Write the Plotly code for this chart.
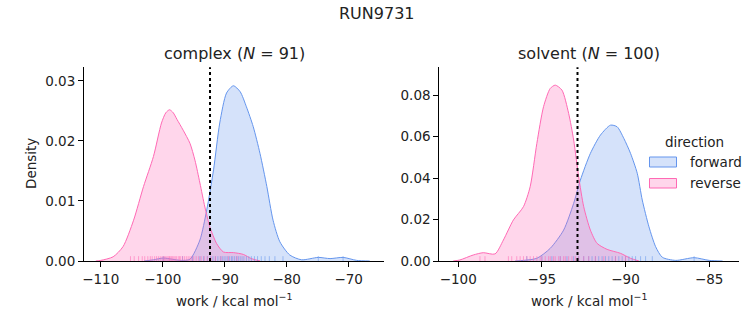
import plotly.graph_objects as go

W, H = 753, 325

# ---- data ----
cx_fwd_x = [-103.0, -101.5, -99.9, -98.5, -97.0, -95.6, -94.0, -92.9, -91.8, -90.8, -89.7, -88.6, -87.5,
            -86.5, -85.4, -84.3, -83.2, -82.2, -81.1, -79.5, -77.6, -74.9, -73.0, -70.9, -68.7, -66.6]
cx_fwd_y = [0.0, 0.0002, 0.0005, 0.0003, 0.0001, 0.0003, 0.0035, 0.0085, 0.0152, 0.0230, 0.0280, 0.0292, 0.0282,
            0.0257, 0.0224, 0.0179, 0.0124, 0.0068, 0.0032, 0.0010, 0.0002, 0.0006, 0.0004, 0.0006, 0.0001, 0.0]
cx_rev_x = [-110.8, -110.0, -108.0, -106.4, -104.7, -103.1, -101.5, -100.2, -99.5, -98.9, -98.3, -97.7, -96.7,
            -95.6, -94.8, -94.0, -93.2, -92.4, -91.3, -90.2, -88.6, -87.0, -85.7, -84.3]
cx_rev_y = [0.0, 0.0001, 0.0007, 0.0024, 0.0068, 0.0124, 0.0174, 0.0230, 0.0247, 0.0252, 0.0247, 0.0236, 0.0218,
            0.0196, 0.0168, 0.0130, 0.0090, 0.0057, 0.0029, 0.0015, 0.0014, 0.0011, 0.0004, 0.0]

sv_fwd_x = [-96.6, -96.1, -95.3, -94.5, -93.7, -93.1, -92.7, -92.1, -91.5, -90.9, -90.5, -90.1, -89.7,
            -89.3, -89.0, -88.6, -88.2, -87.8, -87.0, -85.9, -85.0, -84.2]
sv_fwd_y = [0.0, 0.0003, 0.0013, 0.0061, 0.0149, 0.0278, 0.0390, 0.0519, 0.0607, 0.0655, 0.0647, 0.0591, 0.0519,
            0.0423, 0.0294, 0.0165, 0.0069, 0.0018, 0.0003, 0.0016, 0.0003, 0.0]
sv_rev_x = [-100.3, -99.9, -99.1, -98.5, -97.8, -97.3, -96.7, -96.1, -95.7, -95.3, -94.9, -94.5, -94.2,
            -93.8, -93.4, -93.1, -92.8, -92.5, -92.1, -91.7, -91.1, -90.3, -89.7, -89.2]
sv_rev_y = [0.0, 0.0005, 0.0029, 0.0040, 0.0034, 0.0101, 0.0198, 0.0262, 0.0358, 0.0567, 0.0744, 0.0832, 0.0848,
            0.0824, 0.0712, 0.0583, 0.0406, 0.0262, 0.0149, 0.0085, 0.0056, 0.0037, 0.0013, 0.0]

cx_rev_rug = [-105.2, -104.6, -103.9, -103.3, -102.9, -102.4, -102.0, -101.7, -101.3, -101.0, -100.7, -100.4,
              -100.1, -99.9, -99.7, -99.5, -99.3, -99.1, -98.9, -98.8, -98.6, -98.4, -98.2, -98.0, -97.8, -97.5,
              -97.3, -97.1, -96.8, -96.5, -96.2, -95.9, -95.6, -95.3, -95.0, -94.6, -94.2, -93.8, -93.3, -92.8,
              -92.2, -91.5, -90.6, -89.4, -88.0]
cx_fwd_rug = [-99.9, -96.8, -95.2, -94.0, -93.4, -92.8, -92.3, -91.9, -91.5, -91.1, -90.7, -90.4, -90.1, -89.8,
              -89.5, -89.2, -88.9, -88.7, -88.4, -88.1, -87.8, -87.5, -87.2, -86.9, -86.5, -86.1, -85.7, -85.2,
              -84.7, -84.1, -83.5, -82.8, -81.9, -80.6, -74.9, -70.9]
sv_rev_rug = [-98.7, -98.4, -97.0, -96.8, -96.5, -96.3, -96.1, -95.9, -95.7, -95.5, -95.3, -95.1, -95.0, -94.8,
              -94.6, -94.5, -94.3, -94.2, -94.0, -93.9, -93.7, -93.6, -93.4, -93.2, -93.0, -92.8, -92.5, -92.2,
              -91.8, -91.3, -90.6, -90.0]
sv_fwd_rug = [-95.9, -95.0, -94.4, -93.9, -93.5, -93.1, -92.8, -92.5, -92.2, -92.0, -91.8, -91.6, -91.4, -91.2,
              -91.0, -90.8, -90.6, -90.4, -90.2, -90.0, -89.8, -89.6, -89.4, -89.1, -88.8, -88.4, -85.9]

cx_mark = -92.37
sv_mark = -92.87

suptitle = "RUN9731"
titles = ["complex (<i>N</i> = 91)", "solvent (<i>N</i> = 100)"]
xlabel = "work / kcal mol<sup>−1</sup>"
ylabel = "Density"
legend_title = "direction"
legend_names = ["forward", "reverse"]

cx_xticks = [-110, -100, -90, -80, -70]
sv_xticks = [-100, -95, -90, -85]
cx_yticks = [0.0, 0.01, 0.02, 0.03]
sv_yticks = [0.0, 0.02, 0.04, 0.06, 0.08]

# ---- styling ----
BLUE = "#6495ED"
PINK = "#FF69B4"
BLUE_F = "rgba(100,149,237,0.27)"
PINK_F = "rgba(255,105,180,0.27)"
BLUE_R = "rgba(100,149,237,0.55)"
PINK_R = "rgba(255,105,180,0.55)"
FONT = "DejaVu Sans"

def px(xp):
    return xp / W

def py(yp):
    return 1 - yp / H

cx_range = [-112.7, -64.3]
sv_range = [-101.13, -83.2]
cx_yr = [0, 0.03228]
sv_yr = [0, 0.0934]

fig = go.Figure()

def kde(x, y, color, fill, xa, ya):
    fig.add_trace(go.Scatter(x=x, y=y, mode="lines", line=dict(color=color, width=1, shape="spline", smoothing=0.7),
                             fill="tozeroy", fillcolor=fill, xaxis=xa, yaxis=ya, showlegend=False,
                             hoverinfo="skip"))

def rug(vals, color, h, xa, ya):
    xs, ys = [], []
    for v in vals:
        xs += [v, v, None]
        ys += [0, h, None]
    fig.add_trace(go.Scatter(x=xs, y=ys, mode="lines", line=dict(color=color, width=1),
                             xaxis=xa, yaxis=ya, showlegend=False, hoverinfo="skip"))

kde(cx_fwd_x, cx_fwd_y, BLUE, BLUE_F, "x", "y")
kde(cx_rev_x, cx_rev_y, PINK, PINK_F, "x", "y")
rug(cx_fwd_rug, BLUE_R, 0.025 * cx_yr[1], "x", "y")
rug(cx_rev_rug, PINK_R, 0.025 * cx_yr[1], "x", "y")

kde(sv_fwd_x, sv_fwd_y, BLUE, BLUE_F, "x2", "y2")
kde(sv_rev_x, sv_rev_y, PINK, PINK_F, "x2", "y2")
rug(sv_fwd_rug, BLUE_R, 0.025 * sv_yr[1], "x2", "y2")
rug(sv_rev_rug, PINK_R, 0.025 * sv_yr[1], "x2", "y2")

ydom = [py(261), py(67.3)]
axcommon = dict(showgrid=False, zeroline=False, showline=True, linecolor="black", linewidth=1,
                ticks="outside", ticklen=5, tickwidth=1, tickcolor="black", automargin=False,
                tickfont=dict(family=FONT, size=13.5, color="#222"))

fig.update_layout(
    width=W, height=H, autosize=False, margin=dict(l=0, r=0, t=0, b=0, pad=0),
    paper_bgcolor="white", plot_bgcolor="white", showlegend=False,
    font=dict(family=FONT, color="#222"),
    xaxis=dict(domain=[px(84), px(384)], range=cx_range, tickvals=cx_xticks, anchor="y",
               ticklabelstandoff=1, **axcommon),
    yaxis=dict(domain=ydom, range=cx_yr, tickvals=cx_yticks, tickformat=".2f", anchor="x",
               ticklabelstandoff=0, **axcommon),
    xaxis2=dict(domain=[px(439.3), px(739.3)], range=sv_range, tickvals=sv_xticks, anchor="y2",
                ticklabelstandoff=1, **axcommon),
    yaxis2=dict(domain=ydom, range=sv_yr, tickvals=sv_yticks, tickformat=".2f", anchor="x2",
                ticklabelstandoff=0, **axcommon),
)

shapes = []
for xr, yr, v in [("x", "y domain", cx_mark), ("x2", "y2 domain", sv_mark)]:
    shapes.append(dict(type="line", xref=xr, yref=yr, x0=v, x1=v, y0=0, y1=1,
                       line=dict(color="black", width=2, dash="dot")))
# legend patches
shapes.append(dict(type="rect", xref="paper", yref="paper", x0=px(649.5), x1=px(676.5), y0=py(167), y1=py(157),
                   line=dict(color=BLUE, width=1), fillcolor=BLUE_F))
shapes.append(dict(type="rect", xref="paper", yref="paper", x0=px(649.5), x1=px(676.5), y0=py(188), y1=py(178.5),
                   line=dict(color=PINK, width=1), fillcolor=PINK_F))
fig.update_layout(shapes=shapes)

ann = []
def text(t, x, y, size, xanchor="center", angle=0):
    ann.append(dict(text=t, x=px(x), y=py(y), xref="paper", yref="paper", showarrow=False,
                    xanchor=xanchor, yanchor="middle", textangle=angle,
                    font=dict(family=FONT, size=size, color="#222")))

text(suptitle, 376.5, 13, 16)
text(titles[0], 234, 54, 16)
text(titles[1], 589, 54, 16)
text(xlabel, 234, 300, 13.5)
text(xlabel, 589, 300, 13.5)
text(ylabel, 31, 164, 13.5, angle=-90)
text(legend_title, 694.5, 142, 13.5)
text(legend_names[0], 687.5, 162, 13.5, xanchor="left")
text(legend_names[1], 687.5, 183, 13.5, xanchor="left")
fig.update_layout(annotations=ann)

fig.write_html("out.html")
